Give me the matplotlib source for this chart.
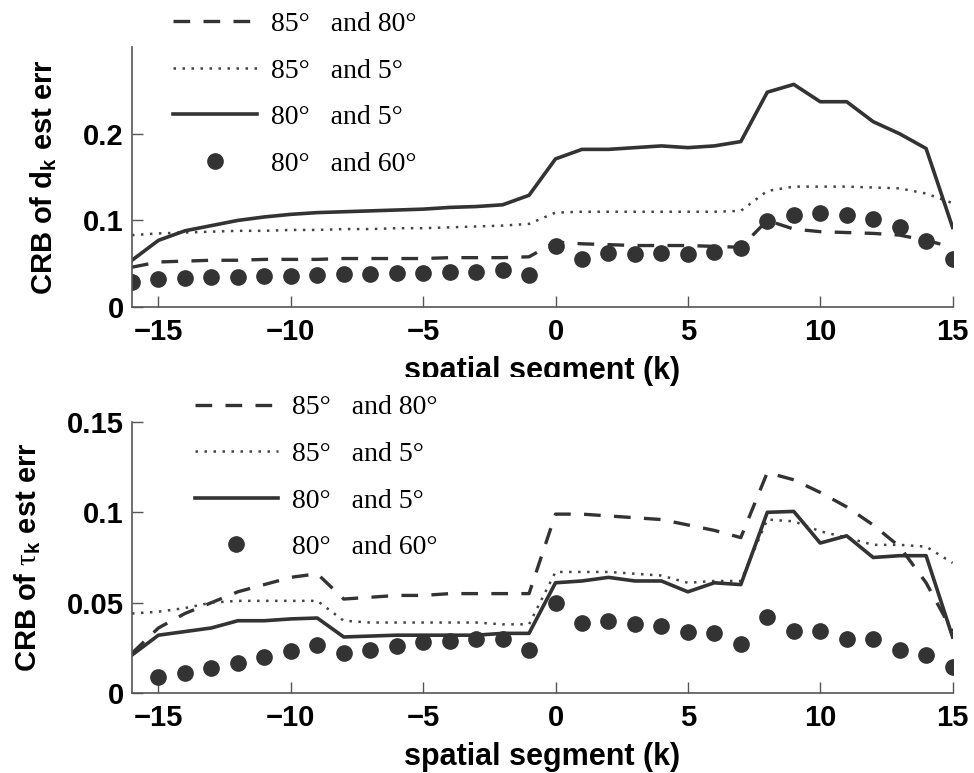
import numpy as np
import matplotlib
matplotlib.use("Agg")
import matplotlib.pyplot as plt
from matplotlib.font_manager import FontProperties
from matplotlib.patches import Rectangle

k = np.arange(-16, 16)

# top panel: CRB of d_k
d_85_80 = [0.046, 0.052, 0.053, 0.054, 0.054, 0.055, 0.055, 0.055, 0.056, 0.056, 0.056, 0.056, 0.057, 0.057, 0.057, 0.058,
           0.075, 0.073, 0.072, 0.071, 0.071, 0.071, 0.070, 0.069, 0.100, 0.090, 0.087, 0.086, 0.085, 0.083, 0.077, 0.069]
d_85_5 = [0.083, 0.085, 0.086, 0.087, 0.088, 0.088, 0.089, 0.089, 0.090, 0.090, 0.091, 0.091, 0.092, 0.093, 0.094, 0.096,
          0.109, 0.110, 0.110, 0.110, 0.110, 0.110, 0.110, 0.111, 0.134, 0.139, 0.139, 0.139, 0.138, 0.137, 0.131, 0.120]
d_80_5 = [0.054, 0.077, 0.088, 0.094, 0.100, 0.104, 0.107, 0.109, 0.110, 0.111, 0.112, 0.113, 0.115, 0.116, 0.118, 0.129,
          0.171, 0.182, 0.182, 0.184, 0.186, 0.184, 0.186, 0.191, 0.248, 0.257, 0.237, 0.237, 0.214, 0.200, 0.183, 0.092]
d_80_60 = [0.029, 0.032, 0.033, 0.035, 0.035, 0.036, 0.036, 0.037, 0.038, 0.038, 0.039, 0.039, 0.040, 0.041, 0.043, 0.037,
           0.070, 0.056, 0.062, 0.061, 0.062, 0.061, 0.063, 0.068, 0.099, 0.106, 0.109, 0.106, 0.102, 0.092, 0.076, 0.056]

# bottom panel: CRB of tau_k
t_85_80 = [0.022, 0.036, 0.044, 0.050, 0.056, 0.060, 0.064, 0.066, 0.052, 0.053, 0.054, 0.054, 0.055, 0.055, 0.055, 0.055,
           0.099, 0.099, 0.098, 0.097, 0.096, 0.093, 0.090, 0.086, 0.122, 0.118, 0.111, 0.103, 0.093, 0.081, 0.061, 0.034]
t_85_5 = [0.044, 0.045, 0.047, 0.050, 0.051, 0.051, 0.051, 0.051, 0.040, 0.039, 0.039, 0.039, 0.039, 0.039, 0.038, 0.038,
          0.067, 0.067, 0.067, 0.066, 0.065, 0.061, 0.062, 0.062, 0.096, 0.095, 0.0895, 0.086, 0.082, 0.082, 0.081, 0.072]
t_80_5 = [0.021, 0.032, 0.034, 0.036, 0.040, 0.040, 0.041, 0.0415, 0.031, 0.0315, 0.032, 0.032, 0.032, 0.032, 0.033, 0.033,
          0.061, 0.062, 0.064, 0.062, 0.062, 0.056, 0.061, 0.060, 0.100, 0.1005, 0.083, 0.087, 0.075, 0.076, 0.076, 0.031]
t_80_60 = [np.nan, 0.009, 0.011, 0.014, 0.0165, 0.020, 0.023, 0.0265, 0.022, 0.024, 0.026, 0.028, 0.029, 0.030, 0.030, 0.024,
           0.050, 0.039, 0.040, 0.038, 0.037, 0.034, 0.033, 0.027, 0.042, 0.0345, 0.0345, 0.030, 0.030, 0.024, 0.021, 0.0145]

labels = ["85\u00b0   and 80\u00b0", "85\u00b0   and 5\u00b0",
          "80\u00b0   and 5\u00b0", "80\u00b0   and 60\u00b0"]
xticks = [-15, -10, -5, 0, 5, 10, 15]

plt.rcParams['font.family'] = ['Liberation Sans', 'DejaVu Sans']
plt.rcParams['mathtext.fontset'] = 'custom'
plt.rcParams['mathtext.rm'] = 'Liberation Sans:bold'
plt.rcParams['mathtext.it'] = 'Liberation Sans:bold'
plt.rcParams['mathtext.bf'] = 'Liberation Sans:bold'
plt.rcParams['mathtext.sf'] = 'Liberation Serif'

C = '#333333'
fig = plt.figure(figsize=(9.74, 7.73), dpi=100)
ax1 = fig.add_axes([0.1355, 0.6028, 0.8425, 0.3362])
ax2 = fig.add_axes([0.1355, 0.1035, 0.8425, 0.3506])

leg_prop = FontProperties(family='Liberation Serif', size=20, weight='normal')

def draw(ax, s1, s2, s3, s4, ylim, yticks, yticklabels, ylabel, legpos, ylabelpad):
    ax.plot(k, s1, color=C, lw=2.4, linestyle=(0, (5, 4)), label=labels[0])
    ax.plot(k, s2, color='#444444', lw=1.8, linestyle=(0, (1, 2.6)), label=labels[1])
    ax.plot(k, s3, color=C, lw=2.6, linestyle='-', label=labels[2])
    ax.plot(k, s4, color=C, lw=0, marker='o', markersize=11, label=labels[3])
    ax.set_xlim(-16, 15)
    ax.set_ylim(*ylim)
    ax.set_xticks(xticks)
    ax.set_xticklabels([str(v).replace('-', '\u2212') for v in xticks], fontweight='bold')
    ax.set_yticks(yticks)
    ax.set_yticklabels(yticklabels, fontweight='bold')
    for s in ['top', 'right']:
        ax.spines[s].set_visible(False)
    for s in ['left', 'bottom']:
        ax.spines[s].set_color('#555555')
        ax.spines[s].set_linewidth(1.2)
    ax.tick_params(direction='in', length=8, width=1.0, color='#555555', labelsize=21)
    ax.tick_params(axis='x', pad=8)
    ax.tick_params(axis='y', pad=6)
    ax.set_xlabel('spatial segment (k)', fontsize=22, fontweight='bold', labelpad=7)
    ax.set_ylabel(ylabel, fontsize=21, fontweight='bold', labelpad=ylabelpad)
    ax.legend(loc='upper left', bbox_to_anchor=legpos, bbox_transform=fig.transFigure,
              frameon=False, prop=leg_prop, handlelength=3.0, handletextpad=0.5,
              labelspacing=0.76, borderpad=0, borderaxespad=0)

draw(ax1, d_85_80, d_85_5, d_80_5, d_80_60, (0, 0.3), [0, 0.1, 0.2], ['0', '0.1', '0.2'],
     r'CRB of d$_\mathrm{k}$ est err', (0.178, 0.985), 17)
draw(ax2, t_85_80, t_85_5, t_80_5, t_80_60, (0, 0.15), [0, 0.05, 0.1, 0.15], ['0', '0.05', '0.1', '0.15'],
     r'CRB of $\mathsf{\tau}_\mathrm{k}$ est err', (0.2, 0.489), 17)

# part of the top x-label is hidden behind the lower legend box in the reference
fig.patches.append(Rectangle((0.18, 1 - 395 / 773), 0.6 - 0.18, (395 - 377) / 773,
                             transform=fig.transFigure, facecolor='white', edgecolor='none', zorder=5))

fig.savefig('out.png', dpi=100)
